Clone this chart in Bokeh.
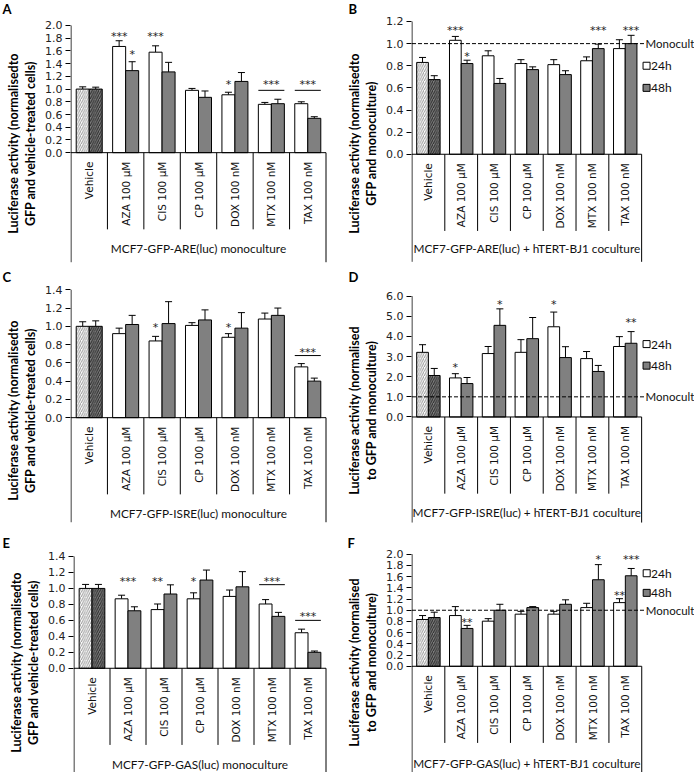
import math
from bokeh.plotting import figure
from bokeh.models import Range1d, FixedTicker, NumeralTickFormatter, Whisker, ColumnDataSource, TeeHead
from bokeh.layouts import column, row
from bokeh.core.properties import value
from bokeh.embed import file_html
from bokeh.resources import INLINE

categories = ["Vehicle", "AZA 100 µM", "CIS 100 µM", "CP 100 µM", "DOX 100 nM", "MTX 100 nM", "TAX 100 nM"]

# Panel A - ARE monoculture
a24 = [1.00, 1.67, 1.58, 0.98, 0.91, 0.76, 0.77]
a24_err = [0.035, 0.09, 0.10, 0.03, 0.04, 0.03, 0.03]
a48 = [1.00, 1.29, 1.27, 0.87, 1.12, 0.77, 0.54]
a48_err = [0.03, 0.14, 0.15, 0.10, 0.14, 0.07, 0.025]
a_sig_cat = [1, 1, 2, 4, 5, 6]
a_sig_bar = ["24h", "48h", "24h", "24h", "pair", "pair"]
a_sig_text = ["***", "*", "***", "*", "***", "***"]
a_sig_y = [1.88, 1.59, 1.88, 1.12, 1.12, 1.12]
a_sig_line = [None, None, None, None, 0.98, 0.98]

# Panel B - ARE coculture
b24 = [0.83, 1.03, 0.89, 0.82, 0.81, 0.845, 0.955]
b24_err = [0.045, 0.035, 0.045, 0.035, 0.045, 0.035, 0.08]
b48 = [0.675, 0.82, 0.64, 0.765, 0.72, 0.955, 1.00]
b48_err = [0.035, 0.03, 0.045, 0.025, 0.035, 0.04, 0.075]
b_sig_cat = [1, 1, 5, 6]
b_sig_bar = ["24h", "48h", "48h", "48h"]
b_sig_text = ["***", "*", "***", "***"]
b_sig_y = [1.15, 0.91, 1.15, 1.15]
b_sig_line = [None, None, None, None]

# Panel C - ISRE monoculture
c24 = [1.00, 0.92, 0.84, 1.01, 0.88, 1.08, 0.556]
c24_err = [0.05, 0.06, 0.05, 0.03, 0.04, 0.065, 0.036]
c48 = [1.00, 1.02, 1.03, 1.07, 0.98, 1.12, 0.40]
c48_err = [0.06, 0.10, 0.24, 0.11, 0.17, 0.08, 0.033]
c_sig_cat = [2, 4, 6]
c_sig_bar = ["24h", "24h", "pair"]
c_sig_text = ["*", "*", "***"]
c_sig_y = [1.02, 1.02, 0.75]
c_sig_line = [None, None, 0.68]

# Panel D - ISRE coculture
d24 = [3.21, 1.94, 3.15, 3.21, 4.48, 2.90, 3.50]
d24_err = [0.38, 0.21, 0.35, 0.63, 0.73, 0.35, 0.49]
d48 = [2.06, 1.66, 4.55, 3.89, 2.95, 2.26, 3.66]
d48_err = [0.35, 0.30, 0.82, 1.05, 0.54, 0.30, 0.58]
d_sig_cat = [1, 2, 4, 6]
d_sig_bar = ["24h", "48h", "24h", "48h"]
d_sig_text = ["*", "*", "*", "**"]
d_sig_y = [2.61, 5.74, 5.74, 4.83]
d_sig_line = [None, None, None, None]

# Panel E - GAS monoculture
e24 = [1.00, 0.87, 0.735, 0.87, 0.90, 0.805, 0.445]
e24_err = [0.05, 0.045, 0.07, 0.075, 0.08, 0.055, 0.045]
e48 = [1.00, 0.72, 0.93, 1.105, 1.02, 0.65, 0.20]
e48_err = [0.05, 0.05, 0.115, 0.125, 0.19, 0.05, 0.016]
e_sig_cat = [1, 2, 3, 5, 6]
e_sig_bar = ["pair", "24h", "24h", "pair", "pair"]
e_sig_text = ["***", "**", "*", "***", "***"]
e_sig_y = [1.13, 1.13, 1.13, 1.13, 0.69]
e_sig_line = [None, None, None, 1.047, 0.60]

# Panel F - GAS coculture
f24 = [0.835, 0.905, 0.805, 0.93, 0.93, 1.047, 1.136]
f24_err = [0.07, 0.16, 0.045, 0.05, 0.05, 0.077, 0.07]
f48 = [0.87, 0.675, 1.0, 1.047, 1.106, 1.544, 1.615]
f48_err = [0.095, 0.055, 0.106, 0.018, 0.08, 0.27, 0.13]
f_sig_cat = [1, 5, 6, 6]
f_sig_bar = ["48h", "48h", "24h", "48h"]
f_sig_text = ["**", "*", "**", "***"]
f_sig_y = [0.83, 1.96, 1.31, 1.96]
f_sig_line = [None, None, None, None]

series_names = ["24h", "48h"]
monocult_label = "Monocult"

GREY = "#808080"
BAR_W = 0.357
BAR_GAP = 0.143
TOP = 17


def make_panel(letter, v24, e24, v48, e48, ymax, ystep, ylabel, group,
               sig_cat, sig_bar, sig_text, sig_y, sig_line, geom, letter_x,
               grp_off, outer, legend=None):
    W, H, ax, rx, y0, ytop = geom
    n = len(categories)
    cw = (rx - ax) / n
    ppu = (y0 - ytop) / ymax
    L = int(round(ax))
    xs = -0.5 / cw
    xe = xs + (W - L) / cw
    yt = (y0 - TOP) / ppu
    yb = -(H - y0) / ppu
    px = lambda d: d / ppu
    pxx = lambda d: d / cw

    p = figure(width=W, height=H, x_range=Range1d(xs, xe), y_range=Range1d(yb, yt),
               output_backend="svg", toolbar_location=None, x_axis_type=None,
               min_border=0, min_border_left=L, min_border_top=TOP,
               title=letter, title_location="above")
    p.min_border_right = 0
    p.min_border_bottom = 0
    p.outline_line_color = None
    p.grid.visible = False
    p.background_fill_color = "white"
    p.border_fill_color = "white"
    p.title.align = "left"
    p.title.offset = -(L - letter_x)
    p.title.standoff = 0
    p.title.vertical_align = "top"
    p.title.text_font = "Lato"
    p.title.text_font_style = "bold"
    p.title.text_font_size = "13px"
    p.title.text_color = "black"

    ya = p.yaxis[0]
    nt = int(round(ymax / ystep))
    ya.ticker = FixedTicker(ticks=[round(i * ystep, 4) for i in range(nt + 1)])
    ya.formatter = NumeralTickFormatter(format="0.0")
    ya.axis_line_color = None
    ya.major_tick_out = 5
    ya.major_tick_in = 0
    ya.minor_tick_line_color = None
    ya.major_tick_line_color = "black"
    ya.major_label_text_font = "DejaVu Sans"
    ya.major_label_text_font_size = "11px"
    ya.major_label_text_color = "#222222"
    ya.major_label_standoff = 3
    ya.axis_label = ylabel
    ya.axis_label_text_font = "Lato"
    ya.axis_label_text_font_style = "bold"
    ya.axis_label_text_font_size = "12.5px"
    ya.axis_label_text_color = "black"
    ya.axis_label_standoff = 4
    ya.axis_label_text_line_height = 1.15

    # bars
    x24 = [i + BAR_GAP + BAR_W / 2 for i in range(n)]
    x48 = [i + BAR_GAP + BAR_W * 1.5 for i in range(n)]
    p.vbar(x=x24[1:], top=v24[1:], width=BAR_W, bottom=0, fill_color="white", line_color="black", line_width=1)
    p.vbar(x=x48[1:], top=v48[1:], width=BAR_W, bottom=0, fill_color=GREY, line_color="black", line_width=1)
    p.vbar(x=x24[:1], top=v24[:1], width=BAR_W, bottom=0, fill_color="white", line_color="black", line_width=1,
           hatch_pattern="/", hatch_color="#9a9a9a", hatch_scale=4.5, hatch_weight=1)
    p.vbar(x=x48[:1], top=v48[:1], width=BAR_W, bottom=0, fill_color=GREY, line_color="black", line_width=1,
           hatch_pattern="/", hatch_color="#2a2a2a", hatch_scale=4.5, hatch_weight=1)

    # error bars (upper only)
    for xv, vv, ev in ((x24, v24, e24), (x48, v48, e48)):
        src = ColumnDataSource(dict(base=xv, lower=vv, upper=[a + b for a, b in zip(vv, ev)]))
        w = Whisker(source=src, base="base", lower="lower", upper="upper", dimension="height",
                    line_color="black", line_width=1, lower_head=None,
                    upper_head=TeeHead(size=7, line_color="black", line_width=1))
        p.add_layout(w)

    # axis lines and category table
    sep = 77
    p.segment(x0=[0, 0, n], y0=[ymax, 0, 0], x1=[0, n, n], y1=[-px(outer), 0, -px(outer)],
              line_color="black", line_width=1)
    p.segment(x0=list(range(1, n)), y0=[0] * (n - 1), x1=list(range(1, n)), y1=[-px(sep)] * (n - 1),
              line_color="black", line_width=1)
    p.text(x=[i + 0.5 for i in range(n)], y=[-px(9)] * n, text=categories, angle=math.pi / 2,
           text_align="right", text_baseline="middle", text_font=value("DejaVu Sans"),
           text_font_size="10.5px", text_color="#111111")
    p.text(x=[n / 2], y=[-px(grp_off)], text=[group], text_align="center", text_baseline="middle",
           text_font=value("Lato"), text_font_size="11.8px", text_color="#111111")

    # significance marks
    sx, sy = [], []
    lx0, lx1, ly = [], [], []
    for c, b, t, yv, ln in zip(sig_cat, sig_bar, sig_text, sig_y, sig_line):
        if b == "24h":
            sx.append(x24[c])
        elif b == "48h":
            sx.append(x48[c])
        else:
            sx.append(c + 0.5)
        sy.append(yv)
        if ln is not None:
            lx0.append(c + BAR_GAP)
            lx1.append(c + BAR_GAP + 2 * BAR_W)
            ly.append(ln)
    p.text(x=sx, y=sy, text=sig_text, text_align="center", text_baseline="middle", y_offset=3,
           text_font=value("DejaVu Sans"), text_font_size="11px", text_color="#222222")
    if ly:
        p.segment(x0=lx0, y0=ly, x1=lx1, y1=ly, line_color="black", line_width=1)

    # monoculture reference and legend
    if legend is not None:
        leg24, leg48 = legend
        p.line(x=[0, n + pxx(3)], y=[1.0, 1.0], line_color="black", line_width=1, line_dash="4 2")
        p.text(x=[n + pxx(4)], y=[1.0], text=[monocult_label], text_align="left", text_baseline="middle",
               text_font=value("Lato"), text_font_size="11.5px", text_color="#111111")
        p.scatter(x=[n + pxx(5)] * 2, y=[leg24, leg48], marker="square", size=7,
                  fill_color=["white", GREY], line_color="black", line_width=1)
        p.text(x=[n + pxx(9.5)] * 2, y=[leg24, leg48], text=series_names, text_align="left",
               text_baseline="middle", text_font=value("Lato"), text_font_size="12px", text_color="#111111")
    return p


lab_mono = "Luciferase activity (normalisedto\nGFP and vehicle-treated cells)"
lab_coB = "Luciferase activity (normalisedto\nGFP and monoculture)"
lab_coDF = "Luciferase activity (normalised\nto GFP and monoculture)"

# geometry: (width, height, axis x, plot right x, y of 0, y of top tick), page pixels per panel
pA = make_panel("A", a24, a24_err, a48, a48_err, 2.0, 0.2, lab_mono, "MCF7-GFP-ARE(luc) monoculture",
                a_sig_cat, a_sig_bar, a_sig_text, a_sig_y, a_sig_line,
                (343, 268, 70, 325, 151.7, 24), 2, 96, 110)
pB = make_panel("B", b24, b24_err, b48, b48_err, 1.2, 0.2, lab_coB, "MCF7-GFP-ARE(luc) + hTERT-BJ1 coculture",
                b_sig_cat, b_sig_bar, b_sig_text, b_sig_y, b_sig_line,
                (351, 268, 63.3, 297, 153.3, 20), 0, 95, 108, legend=(0.80, 0.60))
pC = make_panel("C", c24, c24_err, c48, c48_err, 1.4, 0.2, lab_mono, "MCF7-GFP-ISRE(luc) monoculture",
                c_sig_cat, c_sig_bar, c_sig_text, c_sig_y, c_sig_line,
                (343, 266, 70, 325, 148.7, 20.3), 2, 96, 105)
pD = make_panel("D", d24, d24_err, d48, d48_err, 6.0, 1.0, lab_coDF, "MCF7-GFP-ISRE(luc) + hTERT-BJ1 coculture",
                d_sig_cat, d_sig_bar, d_sig_text, d_sig_y, d_sig_line,
                (351, 266, 63.3, 297, 148, 26.7), 0, 96, 106, legend=(3.62, 2.55))
pE = make_panel("E", e24, e24_err, e48, e48_err, 1.4, 0.2, lab_mono, "MCF7-GFP-GAS(luc) monoculture",
                e_sig_cat, e_sig_bar, e_sig_text, e_sig_y, e_sig_line,
                (343, 238, 73, 325, 133.3, 21), 2, 97, 105)
pF = make_panel("F", f24, f24_err, f48, f48_err, 2.0, 0.2, lab_coDF, "MCF7-GFP-GAS(luc) + hTERT-BJ1 coculture",
                f_sig_cat, f_sig_bar, f_sig_text, f_sig_y, f_sig_line,
                (351, 238, 64, 297, 131.3, 18.7), 0, 98, 107, legend=(1.66, 1.31))

layout = column(row(pA, pB), row(pC, pD), row(pE, pF))
open("out.html", "w").write(file_html(layout, INLINE))
